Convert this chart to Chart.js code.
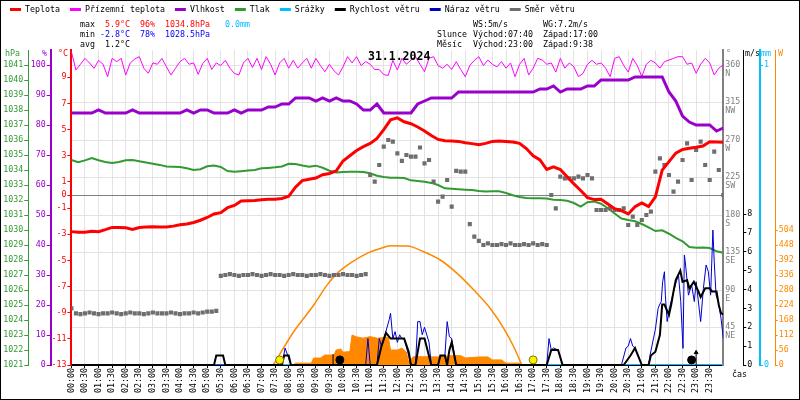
<!DOCTYPE html>
<html>
<head>
<meta charset="utf-8">
<script src="https://cdn.jsdelivr.net/npm/chart.js@4.4.1/dist/chart.umd.min.js"></script>
<style>
  html, body { margin: 0; padding: 0; background: #fff; }
  canvas { display: block; }
</style>
</head>
<body>
<canvas id="meteo" width="800" height="400"></canvas>
<script>
// values

// 15 minute samples, 00:00 .. 24:00
const temperature = [
  -2.8, -2.85, -2.85, -2.78, -2.8, -2.65, -2.48, -2.48,
  -2.5, -2.63, -2.48, -2.45, -2.43, -2.45, -2.45, -2.38,
  -2.28, -2.22, -2.1, -1.93, -1.72, -1.45, -1.35, -0.97,
  -0.8, -0.46, -0.44, -0.42, -0.37, -0.33, -0.32, -0.26,
  -0.1, 0.6, 1.1, 1.2, 1.3, 1.55, 1.65, 1.85,
  2.6, 3.0, 3.4, 3.7, 3.95, 4.33, 5.0, 5.75,
  5.9, 5.6, 5.45, 5.2, 4.9, 4.55, 4.25, 4.15,
  4.13, 4.1, 4.0, 3.93, 3.85, 3.95, 4.1, 4.13,
  4.1, 4.05, 3.95, 3.55, 3.0, 2.68, 1.95, 2.15,
  1.95, 1.4, 0.85, 0.35, -0.2, -0.35, -0.33, -0.68,
  -1.05, -1.2, -1.45, -0.9, -0.6, -0.88, -0.15, 1.9,
  2.55, 3.2, 3.48, 3.57, 3.65, 3.75, 4.08, 4.05,
  4.03
];
const humidity = [
  84, 84, 84, 84, 85, 84, 84, 84,
  84, 85, 84, 84, 84, 84, 84, 84,
  84, 85, 84, 85, 85, 84, 84, 84,
  85, 84, 85, 85, 85, 86, 86, 87,
  87, 89, 89, 89, 88, 89, 88, 89,
  88, 88, 87, 85, 85, 87, 84, 84,
  84, 84, 84, 87, 88, 89, 89, 89,
  89, 91, 91, 91, 91, 91, 91, 91,
  91, 91, 91, 91, 91, 92, 92, 93,
  91, 92, 92, 92, 93, 93, 95, 95,
  95, 95, 95, 96, 96, 96, 96, 96,
  91, 88, 83, 81, 80, 80, 80, 78,
  79
];
const pressure = [
  1034.67, 1034.52, 1034.64, 1034.8, 1034.65, 1034.54, 1034.46, 1034.53,
  1034.65, 1034.67, 1034.58, 1034.5, 1034.42, 1034.34, 1034.23, 1034.22,
  1034.2, 1034.11, 1034.0, 1034.05, 1034.25, 1034.3, 1034.2, 1033.93,
  1033.89, 1033.92, 1033.96, 1034.0, 1034.11, 1034.14, 1034.18, 1034.24,
  1034.42, 1034.4, 1034.3, 1034.22, 1034.29, 1034.15, 1033.95, 1033.83,
  1033.86, 1033.89, 1033.89, 1033.86, 1033.78, 1033.62, 1033.53, 1033.49,
  1033.49, 1033.47, 1033.31, 1033.26, 1033.21, 1033.14, 1033.0, 1032.78,
  1032.75, 1032.72, 1032.69, 1032.66, 1032.6, 1032.56, 1032.58, 1032.58,
  1032.47, 1032.32, 1032.2, 1032.13, 1032.11, 1032.11, 1032.1, 1032.02,
  1032.0, 1031.95, 1031.8, 1031.56, 1031.85, 1031.9, 1031.75, 1031.45,
  1031.1, 1030.76, 1030.66, 1030.58, 1030.4, 1030.17, 1029.93, 1029.98,
  1029.75, 1029.48, 1029.25, 1028.86, 1028.82, 1028.84, 1028.8, 1028.58,
  1028.49
];

// 10 minute samples, 00:00 .. 24:00
const groundTemp = [
  10.96, 9.56, 10.0, 10.45, 10.1, 9.69, 10.3, 10.0, 9.05, 10.45, 10.2, 10.45,
  9.18, 10.1, 10.4, 10.58, 9.7, 9.31, 10.1, 10.0, 10.45, 9.8, 9.18, 9.7,
  10.2, 10.45, 10.0, 10.1, 9.23, 10.05, 10.45, 9.6, 10.1, 9.9, 10.3, 9.7,
  9.3, 9.18, 10.1, 10.45, 9.75, 10.45, 9.6, 10.58, 10.0, 9.18, 10.1, 10.45,
  9.7, 10.3, 9.7, 10.1, 10.45, 9.7, 10.45, 9.9, 9.43, 10.0, 9.5, 9.18,
  9.8, 10.58, 10.1, 10.58, 9.9, 10.2, 10.0, 9.6, 9.6, 9.2, 9.15, 10.3,
  9.56, 10.45, 10.0, 10.32, 10.58, 10.0, 9.43, 10.45, 10.58, 9.9, 9.7, 10.0,
  9.6, 10.2, 9.6, 9.05, 9.9, 10.3, 10.58, 9.9, 10.32, 10.0, 9.8, 10.2,
  9.7, 10.1, 9.05, 10.0, 10.45, 9.18, 9.7, 10.45, 10.32, 10.0, 10.1, 9.4,
  10.45, 9.7, 10.1, 9.8, 9.05, 9.3, 10.0, 10.3, 10.0, 10.1, 9.7, 9.05,
  10.45, 10.58, 9.9, 9.4, 10.45, 9.9, 9.05, 10.0, 10.3, 10.1, 9.7, 10.2,
  10.32, 10.45, 10.58, 10.58, 10.0, 10.1, 9.31, 10.0, 10.45, 10.1, 9.18, 9.7,
  9.94
];
const windDirection = [
  68, 62, 61, 62, 63, 62, 61, 62, 62, 63, 62, 61,
  62, 63, 62, 62, 61, 62, 63, 62, 62, 62, 63, 62,
  61, 62, 62, 63, 62, 63, 64, 64, 65, 107, 108, 109,
  108, 107, 108, 108, 109, 108, 107, 108, 109, 108, 108, 107,
  108, 109, 108, 108, 107, 108, 108, 109, 108, 107, 108, 108,
  109, 108, 108, 107, 108, 109, 228, 220, 240, 262, 270, 268,
  254, 245, 252, 250, 250, 261, 242, 246, 220, 196, 202, 222,
  190, 233, 232, 232, 169, 154, 149, 144, 146, 144, 144, 145,
  144, 146, 144, 144, 145, 144, 146, 144, 145, 144, 204, 188,
  226, 224, 224, 224, 226, 224, 228, 224, 186, 186, 186, 188,
  186, 186, 188, 168, 178, 168, 174, 180, 184, 232, 248, 240,
  228, 208, 220, 246, 266, 222, 258, 268, 240, 222, 256, 234,
  204
];

// break points of the wind, gust and sun traces
const windTimes = ['00:00', '05:15', '05:20', '05:35', '05:40', '07:45', '07:50', '08:00', '08:05',
  '11:15', '11:25', '11:35', '11:45', '12:15', '12:25', '12:30', '12:40', '12:50', '13:00', '13:15',
  '13:30', '13:35', '13:45', '13:50', '13:55', '14:00', '14:10', '17:30', '17:40', '17:55', '18:05',
  '20:20', '20:35', '20:45', '21:00', '21:15', '21:20', '21:30', '21:40', '21:45', '21:50', '22:00',
  '22:05', '22:10', '22:15', '22:25', '22:30', '22:40', '22:45', '22:55', '23:05', '23:10', '23:20',
  '23:30', '23:35', '23:45', '23:50', '23:55', '24:00'];
const windSpeed = [0, 0, 0.5, 0.5, 0, 0, 0.5, 0.5, 0,
  0, 1.0, 1.7, 1.4, 1.4, 0.7, 0, 0, 1.4, 1.4, 0,
  0, 0.5, 0.5, 0, 0.8, 1.2, 0, 0, 0.8, 0.8, 0,
  0, 0.5, 0.9, 0, 0, 0.5, 0.7, 1.6, 3.2, 3.2, 2.65,
  3.2, 3.9, 4.5, 5.0, 4.4, 4.5, 4.06, 4.41, 3.9, 3.6, 4.06,
  4.06, 3.9, 3.9, 3.18, 2.74, 2.69];

const gustTimes = ['00:00', '07:45', '07:52', '07:58', '08:05', '10:50', '10:55', '11:00', '11:15', '11:20',
  '11:25', '11:35', '11:42', '11:45', '11:50', '11:55', '12:00', '12:05', '12:10', '12:15',
  '12:25', '12:30', '12:40', '12:45', '12:50', '12:55', '13:00', '13:10', '13:15', '13:30',
  '13:35', '13:45', '13:50', '13:55', '14:00', '14:10', '17:30', '17:35', '17:40', '17:45',
  '17:55', '18:05', '20:15', '20:25', '20:30', '20:35', '20:40', '20:45', '21:00', '21:15',
  '21:18', '21:30', '21:36', '21:39', '21:43', '21:46', '21:50', '21:52', '21:56', '22:01',
  '22:06', '22:16', '22:21', '22:26', '22:31', '22:34', '22:36', '22:43', '22:50', '22:56',
  '23:00', '23:10', '23:16', '23:22', '23:27', '23:32', '23:37', '23:40', '23:44', '23:49',
  '23:55', '24:00'];
const gustSpeed = [0, 0, 0.9, 0.5, 0, 0, 1.4, 0, 0, 1.4,
  1.0, 1.8, 2.4, 2.74, 1.4, 1.77, 1.2, 1.6, 1.4, 1.4,
  0.5, 0, 0, 2.3, 2.3, 1.6, 2.0, 1.2, 0, 0,
  0.5, 0.5, 2.3, 1.5, 1.4, 0, 0, 1.4, 0.8, 0.9,
  0.8, 0, 0, 0.9, 1.0, 1.4, 1.0, 0.9, 0, 0,
  0.5, 1.9, 3.0, 3.18, 3.36, 4.41, 4.94, 3.7, 2.3, 3.0,
  3.5, 4.41, 4.77, 3.36, 0.88, 5.83, 5.47, 3.7, 4.24, 3.36,
  4.41, 2.3, 4.06, 5.3, 4.94, 3.7, 7.15, 5.47, 3.7, 3.36,
  2.47, 1.41];

const solarTimes = ['08:10', '08:15', '08:50', '08:55', '09:10', '09:20', '09:40', '09:45', '09:55', '10:00',
  '10:15', '10:20', '10:30', '10:45', '11:00', '11:15', '11:40', '11:45', '12:00', '12:10',
  '12:20', '12:25', '12:35', '13:00', '13:30', '14:00', '14:20', '14:30', '15:00', '15:20',
  '15:30', '15:50', '16:00', '16:30', '16:35'];
const solarWatts = [0, 7, 7, 26, 26, 37, 37, 56, 60, 48,
  50, 112, 105, 100, 106, 100, 104, 56, 56, 63,
  48, 12, 31, 31, 30, 35, 35, 26, 30, 30,
  19, 19, 7, 7, 0];

const clearSkyTimes = ['07:26', '08:11', '08:55', '09:25', '09:47', '10:16', '10:53', '11:23', '11:44',
  '12:22', '12:58', '13:35', '14:12', '14:49', '15:25', '15:55', '16:17', '16:35'];
const clearSkyWatts = [0, 124, 223, 299, 342, 380, 417, 435, 445,
  444, 423, 392, 342, 280, 212, 137, 68, 0];

const rainTimes = ['00:00', '24:00'];
const rainfall = [0, 0];

const sunTimes = ['07:40', '17:00'];
const moonTimes = ['09:53', '22:50'];
const moonMarkTimes = ['09:38', '23:00', '23:00'];
const markerLevel = 0.27;

// axis ticks
const tempTicks = [-13, -11, -9, -7, -5, -3, -1, 0, 1, 3, 5, 7, 9];
const humidityTicks = [0, 10, 20, 30, 40, 50, 60, 70, 80, 90, 100];
const pressureTicks = [1021, 1022, 1023, 1024, 1025, 1026, 1027, 1028, 1029, 1030, 1031,
  1032, 1033, 1034, 1035, 1036, 1037, 1038, 1039, 1040, 1041];
const directionTicks = [45, 90, 135, 180, 225, 270, 315, 360];
const directionNames = ['NE', 'E', 'SE', 'S', 'SW', 'W', 'NW', 'N'];
const windTicks = [0, 1, 2, 3, 4, 5, 6, 7, 8];
const rainTicks = [0, 1];
const solarTicks = [0, 56, 112, 168, 224, 280, 336, 392, 448, 504];
const timeTicks = [];
for (let m = 0; m < 1440; m += 30) timeTicks.push(m);

const legendNames = ['Teplota', 'Přízemní teplota', 'Vlhkost', 'Tlak', 'Srážky',
  'Rychlost větru', 'Náraz větru', 'Směr větru'];

const RED = '#ff0000', MAGENTA = '#ff00ff', PURPLE = '#9900cc', GREEN = '#339933',
  CYAN = '#00bfff', BLUE = '#0000cc', GREY = '#6e6e6e', ORANGE = '#ff8800';
const legendColors = [RED, MAGENTA, PURPLE, GREEN, CYAN, '#000000', BLUE, GREY];
const MONO = '"DejaVu Sans Mono", monospace';

const toMin = t => { const [h, m] = t.split(':').map(Number); return h * 60 + m; };
const pad2 = n => String(n).padStart(2, '0');
const fmtTime = v => pad2(Math.floor(v / 60)) + ':' + pad2(v % 60);
const sampled = (values, step) => values.map((v, i) => ({ x: i * step, y: v }));
const atTimes = (times, values) => times.map((t, i) => ({ x: toMin(t), y: values[i] }));
const fixedTicks = values => scale => { scale.ticks = values.map(v => ({ value: v })); };
const fixedWidth = w => scale => { scale.width = w; };
const tickFont = { family: MONO, size: 8.3, lineHeight: 1.05 };

// legend, summary lines, unit labels and frame
const headerPlugin = {
  id: 'header',
  afterDraw(chart) {
    const ctx = chart.ctx;
    ctx.save();
    ctx.textBaseline = 'middle';
    ctx.font = '8.3px ' + MONO;
    let x = 10;
    legendNames.forEach((name, i) => {
      ctx.fillStyle = legendColors[i];
      ctx.fillRect(x, 8, 11, 3);
      ctx.fillStyle = '#000';
      ctx.fillText(name, x + 15, 9.5);
      x += 15 + ctx.measureText(name).width + 10;
    });

    const rows = [
      [['max', 80, '#000'], ['5.9°C', 105, RED], ['96%', 140, RED], ['1034.8hPa', 165, RED], ['0.0mm', 225, CYAN],
       ['WS:5m/s', 473, '#000'], ['WG:7.2m/s', 543, '#000']],
      [['min', 80, '#000'], ['-2.8°C', 100, '#0000ff'], ['78%', 140, '#0000ff'], ['1028.5hPa', 165, '#0000ff'],
       ['Slunce', 437, '#000'], ['Východ:07:40', 473, '#000'], ['Západ:17:00', 543, '#000']],
      [['avg', 80, '#000'], ['1.2°C', 105, '#000'],
       ['Měsíc', 437, '#000'], ['Východ:23:00', 473, '#000'], ['Západ:9:38', 543, '#000']]
    ];
    rows.forEach((row, r) => {
      row.forEach(([txt, tx, col]) => {
        ctx.fillStyle = col;
        ctx.fillText(txt, tx, 25 + r * 10);
      });
    });

    [['hPa', 5, GREEN], ['%', 42, PURPLE], ['°C', 58, RED], ['°', 726, '#808080'],
     ['m/s', 745, '#000'], ['mm', 761, CYAN], ['W', 778, ORANGE]].forEach(([txt, tx, col]) => {
      ctx.fillStyle = col;
      ctx.fillText(txt, tx, 54);
    });
    ctx.fillStyle = '#000';
    ctx.fillText('čas', 732, 375);

    ctx.font = 'bold 11.5px ' + MONO;
    ctx.fillText('31.1.2024', 368, 57.5);

    ctx.strokeStyle = '#000';
    ctx.lineWidth = 1;
    ctx.strokeRect(0.5, 0.5, 799, 399);
    ctx.restore();
  }
};

new Chart(document.getElementById('meteo'), {
  type: 'line',
  data: {
    datasets: [
      { label: 'Slunce', data: atTimes(sunTimes, sunTimes.map(() => markerLevel)), yAxisID: 'wind', order: 0,
        showLine: false, pointStyle: 'circle', pointRadius: 4, pointBackgroundColor: '#ffee00',
        pointBorderColor: '#777700', pointBorderWidth: 1 },
      { label: 'Měsíc', data: atTimes(moonTimes, moonTimes.map(() => markerLevel)), yAxisID: 'wind', order: 0,
        showLine: false, pointStyle: 'circle', pointRadius: 4, pointBackgroundColor: '#000',
        pointBorderColor: '#000', pointBorderWidth: 1 },
      { label: 'Měsíc značky', data: atTimes(moonMarkTimes, [0.29, 0.34, 0.66]), yAxisID: 'wind', order: 0,
        showLine: false, pointStyle: ['line', 'line', 'triangle'], pointRotation: [90, 90, 0],
        pointRadius: [5.5, 6.5, 2.2], pointBackgroundColor: '#000', pointBorderColor: '#000', pointBorderWidth: 1 },
      { label: 'Rychlost větru', data: atTimes(windTimes, windSpeed), yAxisID: 'wind', order: 1,
        borderColor: '#000', borderWidth: 2, pointRadius: 0 },
      { label: 'Náraz větru', data: atTimes(gustTimes, gustSpeed), yAxisID: 'wind', order: 2,
        borderColor: BLUE, borderWidth: 1, pointRadius: 0 },
      { label: 'Teplota', data: sampled(temperature, 15), yAxisID: 'temp', order: 3,
        borderColor: RED, borderWidth: 3, pointRadius: 0 },
      { label: 'Směr větru', data: sampled(windDirection, 10), yAxisID: 'dir', order: 4,
        showLine: false, pointStyle: 'rect', pointRadius: 2.9, pointBackgroundColor: GREY, pointBorderWidth: 0 },
      { label: 'Tlak', data: sampled(pressure, 15), yAxisID: 'pres', order: 5,
        borderColor: GREEN, borderWidth: 2, pointRadius: 0 },
      { label: 'Vlhkost', data: sampled(humidity, 15), yAxisID: 'hum', order: 6,
        borderColor: PURPLE, borderWidth: 3, pointRadius: 0 },
      { label: 'Přízemní teplota', data: sampled(groundTemp, 10), yAxisID: 'temp', order: 7,
        borderColor: MAGENTA, borderWidth: 1, pointRadius: 0 },
      { label: 'Teoretické záření', data: atTimes(clearSkyTimes, clearSkyWatts), yAxisID: 'solar', order: 8,
        borderColor: ORANGE, borderWidth: 1.5, pointRadius: 0, cubicInterpolationMode: 'monotone', tension: 0.4 },
      { label: 'Záření', data: atTimes(solarTimes, solarWatts), yAxisID: 'solar', order: 9,
        borderColor: ORANGE, backgroundColor: ORANGE, borderWidth: 1, fill: 'origin', pointRadius: 0 },
      { label: 'Srážky', data: atTimes(rainTimes, rainfall), yAxisID: 'rain', order: 10,
        borderColor: CYAN, borderWidth: 2, pointRadius: 0 }
    ]
  },
  options: {
    responsive: false,
    animation: false,
    devicePixelRatio: 1,
    events: [],
    layout: { padding: { top: 50, left: 0, right: 0, bottom: 0 } },
    plugins: { legend: { display: false }, tooltip: { enabled: false } },
    scales: {
      x: {
        type: 'linear', min: 0, max: 1440,
        afterBuildTicks: fixedTicks(timeTicks),
        afterFit: s => { s.height = 35; },
        ticks: { autoSkip: false, minRotation: 90, maxRotation: 90, padding: 0, color: '#000',
          font: tickFont, callback: v => fmtTime(v) },
        grid: { color: '#e3e3e3', tickLength: 3, tickColor: '#000' },
        border: { color: '#000', width: 2 }
      },
      temp: {
        position: 'left', weight: 1, min: -13, max: 11.09,
        afterBuildTicks: fixedTicks(tempTicks), afterFit: fixedWidth(20.7),
        ticks: { color: RED, font: tickFont, padding: 1, callback: v => String(v) },
        grid: { color: c => (c.tick && c.tick.value === 0 ? '#808080' : 'rgba(0,0,0,0)'),
          tickColor: RED, tickLength: 4 },
        border: { color: RED, width: 2 }
      },
      hum: {
        position: 'left', weight: 2, min: 0, max: 105,
        afterBuildTicks: fixedTicks(humidityTicks), afterFit: fixedWidth(22.4),
        ticks: { color: PURPLE, font: tickFont, padding: 1, callback: v => String(v) },
        grid: { drawOnChartArea: false, tickColor: PURPLE, tickLength: 4 },
        border: { color: PURPLE, width: 2 }
      },
      pres: {
        position: 'left', weight: 3, min: 1021, max: 1042,
        afterBuildTicks: fixedTicks(pressureTicks), afterFit: fixedWidth(28.3),
        ticks: { color: GREEN, font: tickFont, padding: 1, callback: v => String(v) },
        grid: { drawOnChartArea: false, tickColor: GREEN, tickLength: 4 },
        border: { color: GREEN, width: 1 }
      },
      dir: {
        position: 'right', weight: 1, min: 0, max: 378,
        afterBuildTicks: fixedTicks(directionTicks), afterFit: fixedWidth(20),
        ticks: { color: '#808080', font: tickFont, padding: 2, labelOffset: 4,
          callback: v => [String(v), directionNames[directionTicks.indexOf(v)]] },
        grid: { color: '#e3e3e3', drawTicks: false },
        border: { color: '#808080', width: 2 }
      },
      wind: {
        position: 'right', weight: 2, min: 0, max: 16.69,
        afterBuildTicks: fixedTicks(windTicks), afterFit: fixedWidth(16.7),
        ticks: { color: '#000', font: tickFont, padding: 1, callback: v => String(v) },
        grid: { drawOnChartArea: false, tickColor: '#000', tickLength: 3 },
        border: { color: '#000', width: 1 }
      },
      rain: {
        position: 'right', weight: 3, min: 0, max: 1.05,
        afterBuildTicks: fixedTicks(rainTicks), afterFit: fixedWidth(15.7),
        ticks: { color: CYAN, font: tickFont, padding: 1, callback: v => String(v) },
        grid: { drawOnChartArea: false, tickColor: CYAN, tickLength: 3 },
        border: { color: CYAN, width: 2 }
      },
      solar: {
        position: 'right', weight: 4, min: 0, max: 1176,
        afterBuildTicks: fixedTicks(solarTicks), afterFit: fixedWidth(24.3),
        ticks: { color: ORANGE, font: tickFont, padding: 1, callback: v => String(v) },
        grid: { drawOnChartArea: false, tickColor: ORANGE, tickLength: 2 },
        border: { color: ORANGE, width: 1 }
      }
    }
  },
  plugins: [headerPlugin]
});
</script>
</body>
</html>
